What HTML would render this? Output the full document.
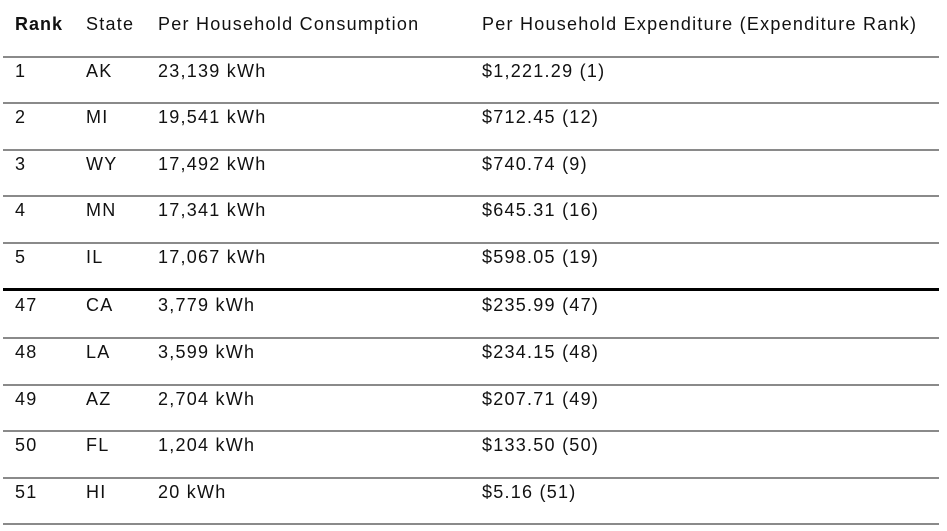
<!DOCTYPE html>
<html><head><style>
body{margin:0;width:947px;height:531px;background:#fff;position:relative;overflow:hidden;font-family:"Liberation Sans",sans-serif;font-size:18px;color:#111}
.l{position:absolute;left:3px;width:936px;height:1.5px;background:#8a8a8a}
.t{position:absolute;white-space:nowrap;line-height:20px;letter-spacing:1.25px}
</style></head><body>
<div class="t" style="left:15px;top:14px;font-weight:bold;letter-spacing:1px">Rank</div>
<div class="t" style="left:86px;top:14px">State</div>
<div class="t" style="left:158px;top:14px">Per Household Consumption</div>
<div class="t" style="left:482px;top:14px">Per Household Expenditure (Expenditure Rank)</div>
<div class="l" style="top:56px"></div>
<div class="l" style="top:102px"></div>
<div class="l" style="top:149px"></div>
<div class="l" style="top:195px"></div>
<div class="l" style="top:242px"></div>
<div class="l" style="top:288px;height:3px;background:#000"></div>
<div class="l" style="top:337px"></div>
<div class="l" style="top:384px"></div>
<div class="l" style="top:430px"></div>
<div class="l" style="top:477px"></div>
<div class="l" style="top:523px"></div>

<div class="t" style="left:15px;top:61px">1</div><div class="t" style="left:86px;top:61px">AK</div><div class="t" style="left:158px;top:61px">23,139 kWh</div><div class="t" style="left:482px;top:61px">$1,221.29 (1)</div>
<div class="t" style="left:15px;top:107px">2</div><div class="t" style="left:86px;top:107px">MI</div><div class="t" style="left:158px;top:107px">19,541 kWh</div><div class="t" style="left:482px;top:107px">$712.45 (12)</div>
<div class="t" style="left:15px;top:154px">3</div><div class="t" style="left:86px;top:154px">WY</div><div class="t" style="left:158px;top:154px">17,492 kWh</div><div class="t" style="left:482px;top:154px">$740.74 (9)</div>
<div class="t" style="left:15px;top:200px">4</div><div class="t" style="left:86px;top:200px">MN</div><div class="t" style="left:158px;top:200px">17,341 kWh</div><div class="t" style="left:482px;top:200px">$645.31 (16)</div>
<div class="t" style="left:15px;top:247px">5</div><div class="t" style="left:86px;top:247px">IL</div><div class="t" style="left:158px;top:247px">17,067 kWh</div><div class="t" style="left:482px;top:247px">$598.05 (19)</div>
<div class="t" style="left:15px;top:295px">47</div><div class="t" style="left:86px;top:295px">CA</div><div class="t" style="left:158px;top:295px">3,779 kWh</div><div class="t" style="left:482px;top:295px">$235.99 (47)</div>
<div class="t" style="left:15px;top:342px">48</div><div class="t" style="left:86px;top:342px">LA</div><div class="t" style="left:158px;top:342px">3,599 kWh</div><div class="t" style="left:482px;top:342px">$234.15 (48)</div>
<div class="t" style="left:15px;top:389px">49</div><div class="t" style="left:86px;top:389px">AZ</div><div class="t" style="left:158px;top:389px">2,704 kWh</div><div class="t" style="left:482px;top:389px">$207.71 (49)</div>
<div class="t" style="left:15px;top:435px">50</div><div class="t" style="left:86px;top:435px">FL</div><div class="t" style="left:158px;top:435px">1,204 kWh</div><div class="t" style="left:482px;top:435px">$133.50 (50)</div>
<div class="t" style="left:15px;top:482px">51</div><div class="t" style="left:86px;top:482px">HI</div><div class="t" style="left:158px;top:482px">20 kWh</div><div class="t" style="left:482px;top:482px">$5.16 (51)</div>
</body></html>
